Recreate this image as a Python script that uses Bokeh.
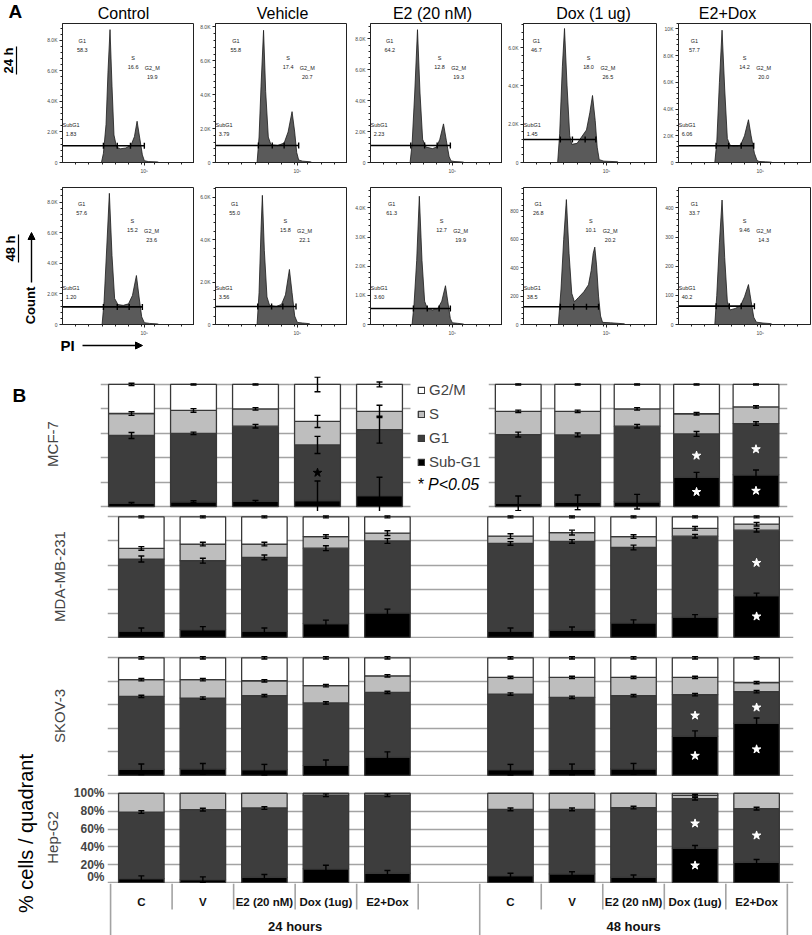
import math
from bokeh.plotting import figure
from bokeh.layouts import column, row
from bokeh.models import (FixedTicker, Arrow, NormalHead, TeeHead, Whisker, BoxAnnotation,
                          ColumnDataSource, Range1d, Legend, LegendItem)
from bokeh.embed import file_html
from bokeh.resources import INLINE
from bokeh.core.properties import value

FONT = "Liberation Sans"

# ======================= Panel A : PI histograms =======================
hist_titles = ["Control", "Vehicle", "E2 (20 nM)", "Dox (1 ug)", "E2+Dox"]
row_titles = ["24 h", "48 h"]

# PI channel (% of full scale) / event counts of each histogram outline
h24_ctrl_x = [29.5, 31, 33, 34.5, 36, 37.5, 39, 41, 44, 48, 52, 54.5, 56.5, 58.5, 60.5, 62, 65, 72, 73]
h24_ctrl_y = [0, 600, 2500, 6000, 8700, 5000, 1800, 1000, 900, 950, 1150, 1700, 2700, 1600, 500, 120, 60, 40, 0]
h24_veh_x = [31.5, 33, 34.5, 36.4, 38, 40, 42, 47, 52, 55, 58, 60, 61.5, 63, 66, 72, 73]
h24_veh_y = [0, 1500, 4500, 7800, 4200, 1500, 1050, 1000, 1150, 1800, 3000, 1800, 600, 150, 80, 40, 0]
h24_e2_x = [30, 31.5, 33.5, 35.6, 37.5, 39.5, 42, 47, 50, 52.5, 55.3, 57.5, 59.5, 61, 64, 70, 71]
h24_e2_y = [0, 1200, 4500, 8600, 4500, 1500, 1000, 900, 1000, 1500, 2500, 1400, 400, 100, 60, 30, 0]
h24_dox_x = [25.5, 27, 29, 30.6, 32.5, 34.5, 36, 40, 43, 47, 49.5, 51.5, 53.5, 55, 56.5, 60, 70, 71]
h24_dox_y = [0, 1500, 5000, 7000, 4000, 1400, 950, 1000, 1300, 1700, 2600, 3500, 2200, 800, 150, 70, 40, 0]
h24_e2dox_x = [27.5, 29, 31, 33, 35, 37, 39, 43, 47, 50, 53, 55, 57.5, 59.5, 61, 66, 70, 71]
h24_e2dox_y = [0, 1500, 6000, 9900, 5500, 1800, 1300, 1200, 1300, 2000, 3200, 2000, 700, 150, 80, 50, 30, 0]
h48_ctrl_x = [30, 31.5, 33.5, 35.5, 37.5, 39.5, 42, 46, 50, 53, 56, 58, 60, 62, 66, 72, 73]
h48_ctrl_y = [0, 1500, 5000, 8570, 4500, 1700, 1300, 1250, 1350, 1900, 3200, 1800, 500, 120, 70, 40, 0]
h48_veh_x = [31.5, 33, 34.5, 35.5, 37, 39, 41, 46, 50, 53, 56, 58, 60, 62, 66, 71, 72]
h48_veh_y = [0, 1500, 4500, 6100, 3500, 1300, 900, 850, 950, 1400, 2600, 1500, 400, 100, 70, 40, 0]
h48_e2_x = [31.5, 33, 35, 37, 39, 41, 43, 47, 51, 54, 56.8, 58.5, 60.5, 62, 66, 70, 71]
h48_e2_y = [0, 700, 2200, 4400, 2200, 800, 550, 500, 550, 800, 1330, 800, 200, 60, 40, 20, 0]
h48_dox_x = [26, 28, 30, 32, 34, 36, 38, 41, 45, 48.5, 50.5, 52, 53.2, 54.5, 56, 57.5, 59, 65, 75, 76]
h48_dox_y = [0, 250, 600, 880, 500, 220, 160, 190, 230, 280, 380, 500, 545, 420, 200, 60, 15, 12, 5, 0]
h48_e2dox_x = [27.5, 29, 31, 33, 35, 37, 39, 43, 47, 50, 53, 55, 57, 59, 64, 70, 71]
h48_e2dox_y = [0, 100, 280, 427, 230, 80, 50, 55, 65, 95, 137, 80, 25, 8, 5, 3, 0]

hist_x = [h24_ctrl_x, h24_veh_x, h24_e2_x, h24_dox_x, h24_e2dox_x,
          h48_ctrl_x, h48_veh_x, h48_e2_x, h48_dox_x, h48_e2dox_x]
hist_y = [h24_ctrl_y, h24_veh_y, h24_e2_y, h24_dox_y, h24_e2dox_y,
          h48_ctrl_y, h48_veh_y, h48_e2_y, h48_dox_y, h48_e2dox_y]

hist_top = [9100, 8200, 9000, 7260, 10400, 8950, 6470, 4700, 965, 470]
hist_ticks = [[0, 2000, 4000, 6000, 8000], [0, 2000, 4000, 6000, 8000], [0, 2000, 4000, 6000, 8000],
              [0, 2000, 4000, 6000], [0, 2000, 4000, 6000, 8000, 10000],
              [0, 2000, 4000, 6000, 8000], [0, 2000, 4000, 6000], [0, 1000, 2000, 3000, 4000],
              [0, 200, 400, 600, 800], [0, 100, 200, 300, 400]]
gate_edges = [[31, 41.5, 51.5, 62], [32.5, 43, 52, 63], [30.5, 41, 50.5, 60.5], [27.5, 36.5, 46, 54],
              [28.5, 38, 47.5, 57], [31, 41.5, 50.5, 60.5], [32, 42.5, 51, 61], [32.5, 43, 52, 60.5],
              [27.5, 37.5, 47, 56], [28.5, 38.5, 47.5, 57.5]]
gate_level = [1100, 1000, 1100, 1200, 1250, 1150, 850, 550, 125, 63]
pct_g1 = ["58.3", "55.8", "64.2", "46.7", "57.7", "57.6", "55.0", "61.3", "26.8", "33.7"]
pct_s = ["16.6", "17.4", "12.8", "18.0", "14.2", "15.2", "15.8", "12.7", "10.1", "9.46"]
pct_g2m = ["19.9", "20.7", "19.3", "26.5", "20.0", "23.6", "22.1", "19.9", "20.2", "14.3"]
pct_sub = ["1.83", "3.79", "2.23", "1.45", "6.06", "1.20", "3.56", "3.60", "38.5", "40.2"]
pi_tick = 62
pi_tick_label = "10\u2075"

# ======================= Panel B : stacked bars =======================
conditions = ["C", "V", "E2 (20 nM)", "Dox (1ug)", "E2+Dox"]
time_groups = ["24 hours", "48 hours"]
phase_names = ["Sub-G1", "G1", "S", "G2/M"]
pct_ticks = [0, 20, 40, 60, 80, 100]

mcf7_sub = [2.7, 4.0, 4.3, 5.0, 9.0, 2.7, 3.5, 4.0, 24.0, 26.0]
mcf7_g1 = [55.5, 56.0, 61.5, 45.5, 54.0, 56.3, 55.2, 61.8, 35.5, 42.0]
mcf7_s = [18.0, 18.7, 14.2, 19.2, 15.0, 19.0, 19.3, 14.2, 16.5, 13.6]
mcf7_g2m = [23.8, 21.3, 20.0, 30.3, 22.0, 22.0, 22.0, 20.0, 24.0, 18.4]
mcf7_err_sub = [0.8, 0.8, 0.8, 16, 15, 6, 6, 6, 4, 4]
mcf7_err_g1 = [2.5, 1, 1.5, 7, 11, 2, 1.5, 1.5, 2, 1.5]
mcf7_err_s = [1.5, 1.5, 1, 5, 5, 1, 1, 1, 1, 1]
mcf7_err_g2m = [1, 0.5, 0.5, 6, 2, 0.5, 0.5, 0.5, 0.5, 0.5]
mcf7_sig_sub = [0, 0, 0, 0, 0, 0, 0, 0, 1, 1]
mcf7_sig_g1 = [0, 0, 0, 1, 0, 0, 0, 0, 1, 1]

mda_sub = [5.2, 6.4, 5.2, 11.3, 20.4, 5.2, 6.0, 12.0, 16.8, 34.7]
mda_g1 = [59.8, 57.2, 61.2, 62.7, 59.6, 72.8, 73.6, 62.6, 67.2, 54.3]
mda_s = [8.8, 13.8, 11.0, 9.7, 6.5, 6.0, 7.4, 9.1, 6.5, 5.0]
mda_g2m = [26.2, 22.6, 22.6, 16.3, 13.5, 16.0, 13.0, 16.3, 9.5, 6.0]
mda_err_sub = [2.5, 2.5, 2.5, 3, 3, 2.5, 2.5, 2.5, 2, 2]
mda_err_g1 = [2.5, 2, 2, 2, 2, 1.5, 1.5, 2, 1.5, 1.5]
mda_err_s = [1.5, 1.5, 1.5, 1.5, 2, 2, 2, 1.5, 1.5, 1.5]
mda_err_g2m = [0.8, 0.8, 0.8, 0.8, 0.8, 0.8, 0.8, 0.8, 0.8, 0.8]
mda_sig_sub = [0, 0, 0, 0, 0, 0, 0, 0, 0, 1]
mda_sig_g1 = [0, 0, 0, 0, 0, 0, 0, 0, 0, 1]

skov_sub = [5.1, 5.6, 4.8, 8.5, 15.5, 4.8, 5.1, 5.6, 33.3, 44.3]
skov_g1 = [62.1, 60.2, 63.0, 53.1, 55.1, 64.4, 61.3, 62.2, 35.3, 26.9]
skov_s = [14.2, 15.6, 12.7, 14.7, 14.1, 14.1, 16.9, 15.5, 14.7, 7.8]
skov_g2m = [18.6, 18.6, 19.5, 23.7, 15.3, 16.7, 16.7, 16.7, 16.7, 21.0]
skov_err_sub = [4.5, 4.5, 4.5, 4.5, 4.5, 4.5, 4.5, 4.5, 4.5, 4.5]
skov_err_g1 = [1, 1, 1, 1, 1, 1, 1, 1, 1, 1]
skov_err_s = [1, 1, 1, 1, 1, 1, 1, 1, 1, 1]
skov_err_g2m = [1, 1, 1, 1, 1, 1, 1, 1, 1, 1]
skov_sig_sub = [0, 0, 0, 0, 0, 0, 0, 0, 1, 1]
skov_sig_g1 = [0, 0, 0, 0, 0, 0, 0, 0, 1, 1]

hep_sub = [4.5, 3.4, 6.0, 15.4, 10.5, 7.9, 9.7, 6.0, 38.5, 22.8]
hep_g1 = [74.5, 78.3, 77.5, 82.4, 87.3, 74.1, 72.3, 78.0, 55.5, 60.0]
hep_s = [21.0, 18.3, 16.5, 2.2, 2.2, 18.0, 18.0, 16.0, 3.8, 17.2]
hep_g2m = [0, 0, 0, 0, 0, 0, 0, 0, 2.2, 0]
hep_err_sub = [3, 3, 3, 4, 3, 2.5, 2.5, 2.5, 3, 3]
hep_err_g1 = [1.5, 1.5, 1.5, 1.5, 1.5, 1.5, 1.5, 1.5, 1.5, 1.5]
hep_err_s = [0, 0, 0, 0, 0, 0, 0, 0, 1, 0]
hep_err_g2m = [0, 0, 0, 0, 0, 0, 0, 0, 0, 0]
hep_sig_sub = [0, 0, 0, 0, 0, 0, 0, 0, 1, 0]
hep_sig_g1 = [0, 0, 0, 0, 0, 0, 0, 0, 1, 1]

# ----------------------------- styles ---------------------------------
phase_colors = ["#000000", "#3d3d3d", "#bebebe", "#ffffff"]
GRID = "#a3a3a3"
HIST_FILL = "#5a5a5a"
PAGE_W = 812


def fmt_count(t):
    if t == 0:
        return "0"
    if t >= 10000:
        return "%dK" % (t // 1000)
    if t >= 1000:
        return "%.1fK" % (t / 1000.0)
    return str(t)


def strip(x0, x1, y0, y1):
    """A blank frame whose ranges are page pixels (y grows downwards) for outer texts."""
    p = figure(width=x1 - x0, height=y1 - y0, x_range=Range1d(x0, x1), y_range=Range1d(y1, y0),
               output_backend="svg", toolbar_location=None, x_axis_location=None,
               y_axis_location=None, min_border=0)
    p.grid.visible = False
    p.outline_line_color = None
    return p


def put_text(p, x, y, text, size="15px", style="normal", align="center", baseline="middle",
             angle=0.0):
    p.text(x=[x], y=[y], text=[text], angle=angle, text_font=value(FONT), text_font_size=size,
           text_font_style=style, text_align=align, text_baseline=baseline, text_color="black")


# ---------------------------- Panel A layout ---------------------------
LEFT_A = 40
fig_w = [154, 153, 155, 155, 155]
bord_l = [22, 21, 23, 21, 21]
bord_r = [0, 0, 0, 0, 2]
row_geom = [(165, 1, 25), (151, 0, 11)]   # height, top border, bottom border
title_cx = [123, 282, 432, 593, 727]


def hist_fig(k):
    rowi, col = divmod(k, 5)
    h, bt, bb = row_geom[rowi]
    top = hist_top[k]
    p = figure(width=fig_w[col], height=h, x_range=Range1d(0, 100), y_range=Range1d(0, top),
               output_backend="svg", toolbar_location=None,
               min_border_left=bord_l[col], min_border_right=bord_r[col],
               min_border_top=bt, min_border_bottom=bb)
    p.grid.visible = False
    p.outline_line_color = "#222222"
    p.outline_line_width = 1
    xs, ys = hist_x[k], hist_y[k]
    p.patch(xs, ys, fill_color=HIST_FILL, line_color="#1a1a1a", line_width=0.8)
    g = gate_edges[k]
    gy = gate_level[k]
    p.segment(x0=[0], y0=[gy], x1=[g[-1]], y1=[gy], line_color="black", line_width=1.6)
    p.scatter(g, [gy] * len(g), marker="dash", angle=math.pi / 2, size=6,
              line_color="black", line_width=1.4)
    ipk = ys.index(max(ys))
    g1x = xs[ipk]
    g2x = max((yy, xx) for xx, yy in zip(xs, ys) if xx > g1x + 8)[1]
    p.text(x=[g1x - 21, g2x - 3, g2x + 11.5, 6.5],
           y=[0.845 * top, 0.72 * top, 0.65 * top, 0.235 * top],
           text=["G1\n" + pct_g1[k], "S\n" + pct_s[k], "G2_M\n" + pct_g2m[k], "SubG1\n" + pct_sub[k]],
           text_font=value(FONT), text_font_size="5.5px", text_align="center",
           text_baseline="middle", text_line_height=1.5, text_color="#222222")
    t = hist_ticks[k]
    step = t[1] - t[0]
    minor = [i * step / 5.0 for i in range(int(top / (step / 5.0)) + 1)]
    p.yaxis.ticker = FixedTicker(ticks=t, minor_ticks=minor)
    p.yaxis.major_label_overrides = {v: fmt_count(v) for v in t}
    p.xaxis.ticker = FixedTicker(ticks=[pi_tick], minor_ticks=[10, 20, 30, 40, 50, 60, 70, 80, 90])
    p.xaxis.major_label_overrides = {pi_tick: pi_tick_label}
    for ax in (p.xaxis[0], p.yaxis[0]):
        ax.major_label_text_font = FONT
        ax.major_label_text_font_size = "5px"
        ax.major_label_standoff = 2
        ax.major_tick_out = 3
        ax.major_tick_in = 0
        ax.minor_tick_out = 2
        ax.minor_tick_in = 0
        ax.axis_line_color = "#222222"
        ax.major_tick_line_color = "#222222"
        ax.minor_tick_line_color = "#222222"
    return p


hfigs = [hist_fig(k) for k in range(10)]

# title strip
tstrip = strip(0, PAGE_W, 0, 22)
put_text(tstrip, 8, 21, "A", size="19px", style="bold", align="left", baseline="bottom")
for c in range(5):
    put_text(tstrip, title_cx[c], 21, hist_titles[c], size="16px", baseline="bottom")

# left strip of panel A
la = strip(0, LEFT_A, 22, 338)
put_text(la, 8, 60, row_titles[0], size="13px", style="bold", angle=math.pi / 2)
la.segment(x0=[16], x1=[16], y0=[46], y1=[74], line_color="black", line_width=1.2)
put_text(la, 10, 248, row_titles[1], size="13px", style="bold", angle=math.pi / 2)
la.segment(x0=[18], x1=[18], y0=[234], y1=[262], line_color="black", line_width=1.2)
put_text(la, 30, 305, "Count", size="13px", style="bold", angle=math.pi / 2)
la.add_layout(Arrow(x_start=31, y_start=282, x_end=31, y_end=232,
                    end=NormalHead(size=7, fill_color="black", line_color="black"),
                    line_color="black", line_width=1.4))

# PI strip under panel A
pis = strip(0, PAGE_W, 338, 376)
put_text(pis, 60, 345, "PI", size="15px", style="bold", align="left")
pis.add_layout(Arrow(x_start=82, y_start=345, x_end=142, y_end=345,
                     end=NormalHead(size=7, fill_color="black", line_color="black"),
                     line_color="black", line_width=1.4))

panelA = column(tstrip,
                row(la, column(row(*hfigs[:5]), row(*hfigs[5:]))),
                pis)


# ---------------------------- Panel B ----------------------------------
def draw_stack(p, xs, sub, g1, s, g2m, esub, eg1, es, eg2m, sig_sub, sig_g1, star_col, width=0.74):
    src = ColumnDataSource(dict(x=xs, sub=sub, g1=g1, s=s, g2m=g2m))
    rs = p.vbar_stack(["sub", "g1", "s", "g2m"], x="x", width=width, source=src,
                      fill_color=phase_colors, line_color="#383838", line_width=1.3)
    wx, wlo, wup = [], [], []
    for j in range(len(xs)):
        c = 0.0
        for seg, err in ((sub, esub), (g1, eg1), (s, es), (g2m, eg2m)):
            c += seg[j]
            if err[j] > 0:
                wx.append(xs[j]); wlo.append(c - err[j]); wup.append(c + err[j])
    wsrc = ColumnDataSource(dict(x=wx, lo=wlo, up=wup))
    p.add_layout(Whisker(source=wsrc, base="x", lower="lo", upper="up", level="annotation",
                         line_color="black", line_width=1.4,
                         upper_head=TeeHead(size=6, line_color="black", line_width=1.4),
                         lower_head=TeeHead(size=6, line_color="black", line_width=1.4)))
    sx, sy, sc = [], [], []
    for j in range(len(xs)):
        if sig_sub[j]:
            sx.append(xs[j]); sy.append(sub[j] / 2.0); sc.append(star_col[j])
        if sig_g1[j]:
            sx.append(xs[j]); sy.append(sub[j] + g1[j] / 2.0); sc.append(star_col[j])
    if sx:
        p.scatter(sx, sy, marker="star", size=9, fill_color=sc, line_color=sc)
    return rs


def style_bar_fig(p, label, standoff=40):
    p.xgrid.visible = False
    p.ygrid.ticker = FixedTicker(ticks=pct_ticks)
    p.ygrid.grid_line_color = GRID
    p.ygrid.grid_line_width = 1.6
    p.outline_line_color = None
    if label is not None:
        p.yaxis.ticker = FixedTicker(ticks=[])
        p.yaxis.axis_line_color = None
        p.yaxis.major_tick_out = 0
        p.yaxis.minor_tick_out = 0
        p.yaxis.axis_label = label
        p.yaxis.axis_label_text_font = FONT
        p.yaxis.axis_label_text_font_size = "15px"
        p.yaxis.axis_label_text_font_style = "normal"
        p.yaxis.axis_label_standoff = standoff


slots = [g * 6 + i for g in range(len(time_groups)) for i in range(len(conditions))]
bar_x = [s_ + 0.5 for s_ in slots]
star_cols = ["black" if g == 0 else "white" for g in range(len(time_groups)) for _ in conditions]
XR = (-0.05, 11.1)
BW = PAGE_W - LEFT_A
n = len(conditions)

# MCF-7: 24 h chart (with the legend beside it) and 48 h chart
m24 = figure(width=448, height=135, x_range=Range1d(0, 388 / 62.0), y_range=Range1d(-4, 106.5),
             output_backend="svg", toolbar_location=None, x_axis_location=None,
             min_border_left=60, min_border_right=0, min_border_top=0, min_border_bottom=0)
style_bar_fig(m24, "MCF-7")
m24.add_layout(BoxAnnotation(left=5.0, fill_color="white", fill_alpha=1, line_alpha=0,
                             level="underlay"))
rs = draw_stack(m24, [i + 0.5 for i in range(n)], mcf7_sub[:n], mcf7_g1[:n], mcf7_s[:n], mcf7_g2m[:n],
                mcf7_err_sub[:n], mcf7_err_g1[:n], mcf7_err_s[:n], mcf7_err_g2m[:n],
                mcf7_sig_sub[:n], mcf7_sig_g1[:n], star_cols[:n])
legend = Legend(items=[LegendItem(label=phase_names[i], renderers=[rs[i]]) for i in (3, 2, 1, 0)],
                location=(317, 41), background_fill_alpha=0, border_line_alpha=0,
                padding=0, margin=0, spacing=7, label_height=16, glyph_height=8, glyph_width=8,
                label_standoff=4, label_text_font=FONT, label_text_font_size="15px")
m24.add_layout(legend)
m24.text(x=[5.11], y=[18.1], text=["* P<0.05"], text_font=value(FONT), text_font_size="16px",
         text_font_style="italic", text_align="left", text_baseline="middle", text_color="black")

m48 = figure(width=324, height=135, x_range=Range1d(0, 5.03), y_range=Range1d(-4, 106.5),
             output_backend="svg", toolbar_location=None, x_axis_location=None, y_axis_location=None,
             min_border_left=0, min_border_right=25, min_border_top=0, min_border_bottom=0)
style_bar_fig(m48, None)
draw_stack(m48, [i + 0.5 for i in range(n)], mcf7_sub[n:], mcf7_g1[n:], mcf7_s[n:], mcf7_g2m[n:],
           mcf7_err_sub[n:], mcf7_err_g1[n:], mcf7_err_s[n:], mcf7_err_g2m[n:],
           mcf7_sig_sub[n:], mcf7_sig_g1[n:], star_cols[n:], width=0.77)


def bar_fig(h, bt, label, data):
    p = figure(width=BW, height=h, x_range=Range1d(*XR), y_range=Range1d(-1, 102),
               output_backend="svg", toolbar_location=None, x_axis_location=None,
               min_border_left=60, min_border_right=19, min_border_top=bt, min_border_bottom=0)
    style_bar_fig(p, label)
    draw_stack(p, bar_x, *data, star_cols)
    return p


mda = bar_fig(127, 3, "MDA-MB-231", (mda_sub, mda_g1, mda_s, mda_g2m, mda_err_sub, mda_err_g1,
                                     mda_err_s, mda_err_g2m, mda_sig_sub, mda_sig_g1))
skov = bar_fig(138, 17, "SKOV-3", (skov_sub, skov_g1, skov_s, skov_g2m, skov_err_sub, skov_err_g1,
                                   skov_err_s, skov_err_g2m, skov_sig_sub, skov_sig_g1))
hep = bar_fig(107, 15, "Hep-G2", (hep_sub, hep_g1, hep_s, hep_g2m, hep_err_sub, hep_err_g1,
                                  hep_err_s, hep_err_g2m, hep_sig_sub, hep_sig_g1))
hep.yaxis.ticker = FixedTicker(ticks=pct_ticks)
hep.yaxis.major_label_overrides = {t: "%d%%" % t for t in pct_ticks}
hep.yaxis.major_label_text_font = FONT
hep.yaxis.major_label_text_font_size = "12px"
hep.yaxis.major_label_text_font_style = "bold"
hep.yaxis.major_label_standoff = 3
hep.yaxis.major_tick_line_color = None
hep.yaxis.minor_tick_line_color = None
hep.yaxis.axis_label_standoff = 10

# category table under the Hep-G2 chart
tbl = figure(width=BW, height=52, x_range=Range1d(*XR), y_range=Range1d(0, 52),
             output_backend="svg", toolbar_location=None, x_axis_location=None, y_axis_location=None,
             min_border_left=60, min_border_right=19, min_border_top=0, min_border_bottom=0)
tbl.grid.visible = False
tbl.outline_line_color = None
n_slots = len(time_groups) * (len(conditions) + 1) - 1
group_edges = [0, len(conditions) + 1, n_slots]
edges = list(range(n_slots + 1))
tbl.segment(x0=edges, x1=edges, y0=[52] * len(edges),
            y1=[0 if e in group_edges else 26 for e in edges], line_color=GRID, line_width=1.6)
tbl.text(x=bar_x, y=[34] * len(bar_x), text=[conditions[i % n] for i in range(len(bar_x))],
         text_font=value(FONT), text_font_size="11.5px", text_font_style="bold",
         text_align="center", text_baseline="middle", text_color="#111111")
tbl.text(x=[(group_edges[0] + group_edges[1]) / 2.0, (group_edges[1] + group_edges[2]) / 2.0],
         y=[9, 9], text=time_groups, text_font=value(FONT), text_font_size="13px",
         text_font_style="bold", text_align="center", text_baseline="middle", text_color="#111111")

# left strip of panel B
lb = strip(0, LEFT_A, 376, 935)
put_text(lb, 12, 395, "B", size="19px", style="bold", align="left")
put_text(lb, 25, 833, "% cells / quadrant", size="20px", angle=math.pi / 2)

panelB = row(lb, column(row(m24, m48), mda, skov, hep, tbl))

layout = column(panelA, panelB)
open("out.html", "w").write(file_html(layout, INLINE, "Cell cycle"))
